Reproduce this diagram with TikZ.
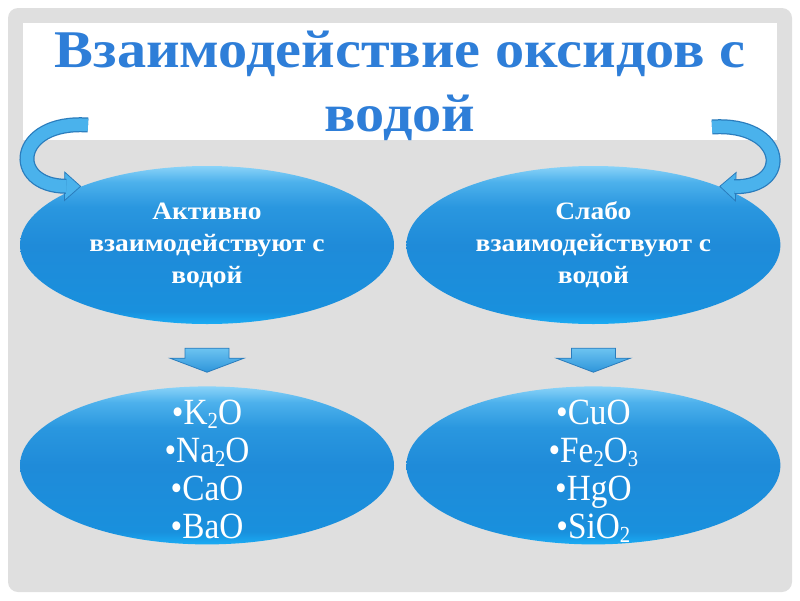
\documentclass[tikz,border=0pt]{standalone}
\usepackage{fontspec}
\setmainfont{Liberation Serif}
\newfontfamily\widefont[FakeStretch=1.1]{Liberation Serif}
\newfontfamily\narrowfont[FakeStretch=0.9]{Liberation Serif}
\usetikzlibrary{arrows.meta,positioning,calc,shapes.geometric}
\definecolor{slidegray}{HTML}{DFDFDF}
\definecolor{titleblue}{HTML}{2E7ED8}
\definecolor{ovaltop}{HTML}{8AD3F8}
\definecolor{ovalhi}{HTML}{4DB1EC}
\definecolor{ovalupper}{HTML}{2A97DF}
\definecolor{ovalmid}{HTML}{1F8BD9}
\definecolor{ovallow}{HTML}{1990DD}
\definecolor{ovalbot}{HTML}{1AACF4}
\definecolor{arrfill}{HTML}{4AB2EC}
\definecolor{arrline}{HTML}{2A7CBC}
\definecolor{blocktop}{HTML}{6CC3F1}
\definecolor{blockbot}{HTML}{2E95DA}
\pgfdeclareverticalshading{ovalshade}{100bp}{color(0bp)=(ovalbot); color(25bp)=(ovalbot); color(29bp)=(ovallow); color(50bp)=(ovalmid); color(62bp)=(ovalupper); color(70bp)=(ovalhi); color(75bp)=(ovaltop); color(100bp)=(ovaltop)}
\newcommand\chemsub[1]{\raisebox{-0.1em}{\fontsize{23}{23}\selectfont#1}}
\tikzset{
  oval/.style={ellipse,minimum width=374pt,minimum height=158pt,inner sep=0pt,shading=ovalshade,text=white,align=center},
  headtext/.style={font=\widefont\bfseries\fontsize{25}{32}\selectfont},
  listtext/.style={text=white,align=center,inner sep=0pt,anchor=north,font=\narrowfont\fontsize{37}{38}\selectfont},
  blockarrow/.style={draw=arrline,line width=0.8pt,top color=blocktop,bottom color=blockbot},
  bandedge/.style={line width=15pt,color=arrline,shorten >=15pt},
  bandfill/.style={line width=12.5pt,color=arrfill,shorten >=15pt},
  bandhead/.style={line width=0.8pt,color=arrline,-{Triangle[length=17pt,width=30pt,fill=arrfill]}},
}

\begin{document}
\begin{tikzpicture}[x=1pt,y=-1pt]
  \useasboundingbox (0,0) rectangle (800,600);
  \fill[slidegray,rounded corners=10pt] (8,8) rectangle (792,592);
  \fill[white] (23,23) rectangle (777,140);
  \node[text=titleblue,align=center,font=\widefont\bfseries\fontsize{53}{64}\selectfont] (title) at (400,86) {Взаимодействие оксидов с\\водой};
  \node[oval,headtext] (act) at (207,245) {Активно\\взаимодействуют с\\водой};
  \node[oval,headtext,right=12pt of act] (sla) {Слабо\\взаимодействуют с\\водой};
  \node[oval,below=62pt of act] (alist) {};
  \node[oval,right=12pt of alist] (slist) {};
  \node[listtext] (alisttext) at ($(alist.north)+(0,14)$) {•K\chemsub{2}O\\•Na\chemsub{2}O\\•CaO\\•BaO};
  \node[listtext] (slisttext) at ($(slist.north)+(0,14)$) {•CuO\\•Fe\chemsub{2}O\chemsub{3}\\•HgO\\•SiO\chemsub{2}};
  \coordinate (ltail) at (88,125);
  \coordinate (rtail) at (712,127);
  \foreach \s in {bandhead,bandedge,bandfill} {
    \draw[\s] (ltail) .. controls (14,120) and (8,186) .. (act.155);
    \draw[\s] (rtail) .. controls (786,122) and (792,188) .. (sla.25);
  }
  \foreach \a in {act,sla}
    \draw[blockarrow] ($(\a.south)+(-22,24)$) -- ++(44,0) -- ++(0,10) -- ++(15,0) -- ($(\a.south)+(0,48)$) -- ($(\a.south)+(-37,34)$) -- ++(15,0) -- cycle;
\end{tikzpicture}
\end{document}
